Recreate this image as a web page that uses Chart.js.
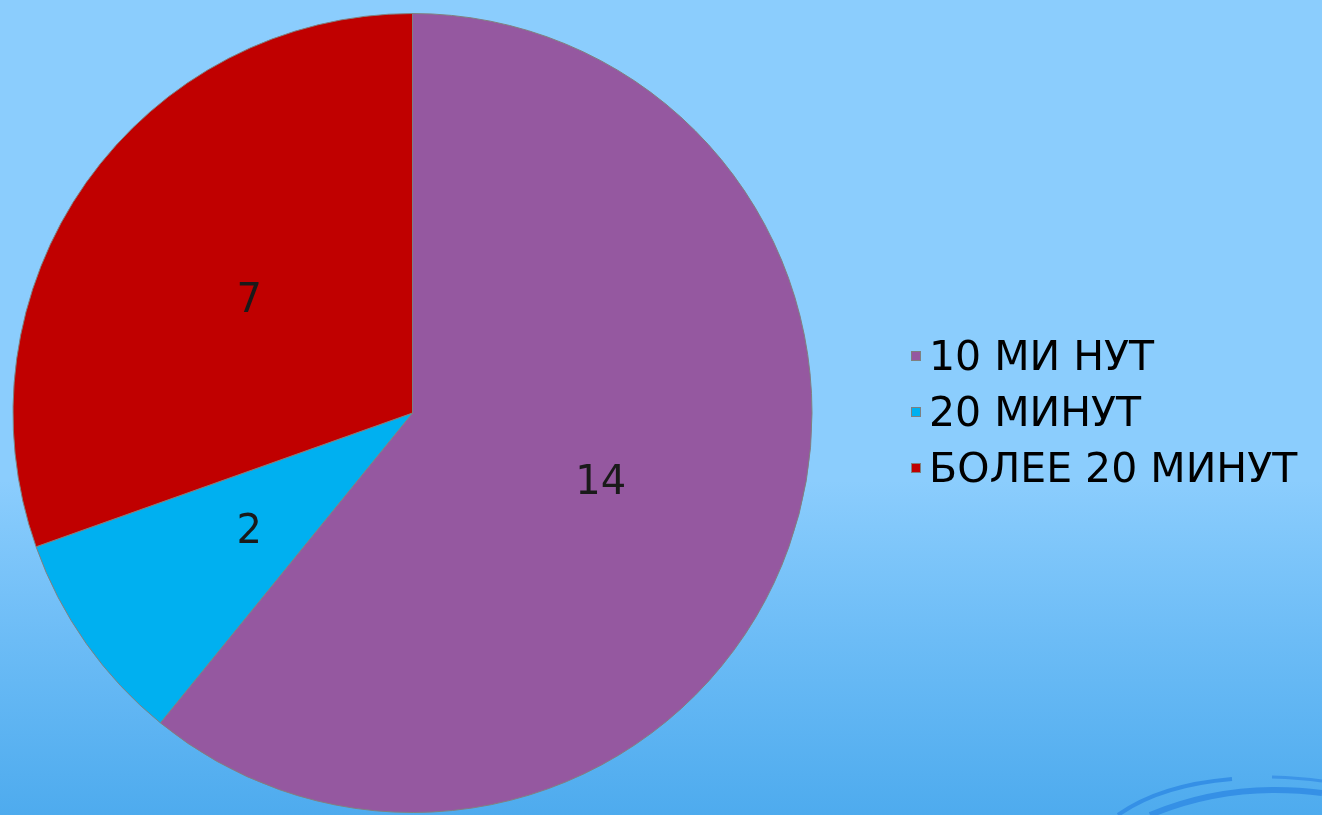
<!DOCTYPE html>
<html>
<head>
<meta charset="utf-8">
<script src="https://cdn.jsdelivr.net/npm/chart.js@4"></script>
<style>
  html, body { margin:0; padding:0; }
  body {
    width:1322px; height:815px; overflow:hidden; position:relative;
    background: linear-gradient(to bottom, #8bcdfd 0px, #8bcdfd 480px, #6cbcf6 640px, #4eabee 815px);
    font-family: "DejaVu Sans", Verdana, sans-serif;
  }
  #wrap { position:absolute; left:0; top:0; width:1322px; height:815px; }
  #legend { position:absolute; left:911px; top:328px; }
  .row { display:flex; align-items:center; height:56px; font-size:41px; color:#000; white-space:pre; }
  .sw { width:10px; height:10px; margin-right:8px; border:1px solid #7f7f7f; box-sizing:border-box; }
  svg { position:absolute; left:0; top:0; }
</style>
</head>
<body>
<svg width="1322" height="815">
  <path d="M1118 815 Q1160 785 1232 779" stroke="#3590e6" stroke-width="4" fill="none"/>
  <path d="M1150 815 Q1210 790 1275 790 Q1300 790 1322 793" stroke="#3590e6" stroke-width="6" fill="none"/>
  <path d="M1272 777 Q1300 778 1322 781" stroke="#3c95e8" stroke-width="3" fill="none"/>
</svg>
<div id="wrap"><canvas id="myChart"></canvas></div>
<div id="legend"></div>
<script>
let labels = ["10 МИ НУТ", "20 МИНУТ", "БОЛЕЕ 20 МИНУТ"];
let values = [14, 2, 7];
let colors = ["#9558a0", "#00b0f0", "#c00000"];

// labels at the middle of each slice
const sliceLabels = {
  id: 'sliceLabels',
  afterDatasetsDraw(chart) {
    let ctx = chart.ctx;
    let meta = chart.getDatasetMeta(0);
    ctx.save();
    ctx.font = '40px "DejaVu Sans"';
    ctx.fillStyle = '#1a1a1a';
    ctx.textAlign = 'center';
    ctx.textBaseline = 'middle';
    meta.data.forEach(function(arc, i) {
      let pos = arc.tooltipPosition();
      ctx.fillText(String(values[i]), pos.x, pos.y + 4);
    });
    ctx.restore();
  }
};

let ctx = document.getElementById("myChart");

let chart = new Chart(ctx, {
  type: 'pie',
  data: {
    labels: labels,
    datasets: [{
      data: values,
      backgroundColor: colors,
      borderColor: '#808080',
      borderWidth: 1
    }]
  },
  options: {
    responsive: true,
    maintainAspectRatio: false,
    animation: false,
    layout: { padding: { left: 12, right: 509, top: 13, bottom: 2 } },
    plugins: {
      legend: { display: false },
      tooltip: { enabled: false }
    }
  },
  plugins: [sliceLabels]
});

// legend
let lg = document.getElementById("legend");
labels.forEach(function(l, i) {
  let row = document.createElement("div");
  row.className = "row";
  let sw = document.createElement("div");
  sw.className = "sw";
  sw.style.background = colors[i];
  row.appendChild(sw);
  row.appendChild(document.createTextNode(l));
  lg.appendChild(row);
});
</script>
</body>
</html>
